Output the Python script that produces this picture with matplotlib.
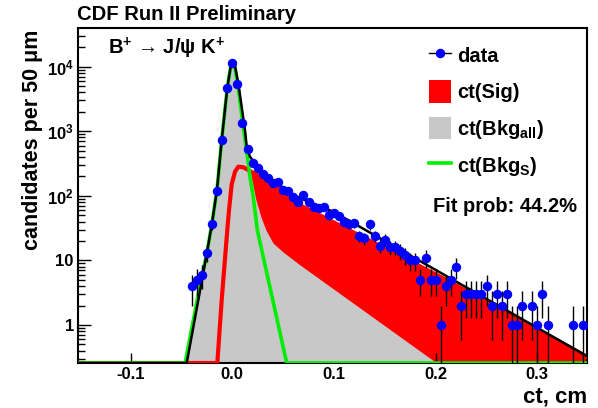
import numpy as np
import matplotlib
matplotlib.use("Agg")
import matplotlib.pyplot as plt
from matplotlib.lines import Line2D
from matplotlib.patches import Patch
from matplotlib.ticker import FixedLocator, FixedFormatter, LogLocator, NullFormatter

plt.rcParams['font.family'] = ['Liberation Sans', 'DejaVu Sans']
plt.rcParams['font.weight'] = 'bold'
plt.rcParams['mathtext.fontset'] = 'custom'
plt.rcParams['mathtext.rm'] = 'Liberation Sans:bold'
plt.rcParams['mathtext.bf'] = 'Liberation Sans:bold'
plt.rcParams['mathtext.it'] = 'Liberation Sans:bold:italic'

# ---------------- data ----------------
data_ct = [-0.04, -0.035, -0.03, -0.025, -0.02, -0.015, -0.01, -0.005, 0.0, 0.005,
           0.01, 0.015, 0.02, 0.025, 0.03, 0.035, 0.04, 0.045, 0.05, 0.055,
           0.06, 0.065, 0.07, 0.075, 0.08, 0.085, 0.09, 0.095, 0.1, 0.105,
           0.11, 0.115, 0.12, 0.125, 0.13, 0.135, 0.14, 0.145, 0.15, 0.155,
           0.16, 0.165, 0.17, 0.175, 0.18, 0.185, 0.19, 0.195, 0.2, 0.205,
           0.21, 0.215, 0.22, 0.225, 0.23, 0.235, 0.24, 0.245, 0.25, 0.255,
           0.26, 0.265, 0.27, 0.275, 0.28, 0.285, 0.295, 0.3, 0.305, 0.31,
           0.335, 0.345]
data_n = [4, 5, 6, 13, 36, 119, 740, 4700, 11500, 5400,
          1320, 535, 325, 269, 217, 192, 158, 166, 125, 117,
          97, 81, 103, 81, 67, 64, 67, 50, 54, 49,
          40, 37, 38, 24, 22, 36, 24, 17, 21, 16,
          16, 14, 12, 10, 10, 5, 11, 5, 5, 1,
          4, 5, 8, 2, 3, 3, 3, 3, 4, 2,
          3, 2, 3, 1, 1, 2, 2, 1, 3, 1,
          1, 1]

YMIN, YMAX = 0.258, 3.96e4
XMIN, XMAX = -0.1517, 0.3488

# total fit (black)
tot_ct = [XMIN, -0.0448, -0.0334, -0.025, -0.02, -0.015, -0.0104, -0.0049, -0.0018, 0.0002,
          0.0027, 0.0059, 0.0092, 0.0125, 0.0142, 0.0174, 0.0272, 0.0437, 0.0633, 0.1, XMAX]
tot_val = [YMIN, YMIN, 2.44, 13, 37, 125, 731, 4700, 9500, 12300,
           10200, 5500, 2400, 1040, 575, 403, 251, 156, 97, 56, 0.33]

# prompt background (green)
bks_ct = [XMIN, -0.0463, -0.0345, -0.025, -0.02, -0.015, -0.0104, -0.0049, -0.0018, 0.0002,
          0.0027, 0.0059, 0.0108, 0.0157, 0.0174, 0.0206, 0.0246, 0.0535, XMAX]
bks_val = [YMIN, YMIN, 2.44, 13, 37, 125, 731, 4700, 9500, 12300,
           9500, 4670, 1160, 322, 198, 97, 29.6, YMIN, YMIN]

# all background (gray fill)
bka_ct = [XMIN, -0.0463, -0.0345, -0.025, -0.02, -0.015, -0.0104, -0.0049, -0.0018, 0.0002,
          0.0027, 0.0059, 0.0108, 0.0157, 0.0184, 0.0233, 0.0282, 0.0331, 0.040, 0.0499,
          0.0666, 0.201, XMAX]
bka_val = [YMIN, YMIN, 2.44, 13, 37, 125, 731, 4700, 9500, 12300,
           9500, 4670, 1160, 330, 210, 86, 47, 29.5, 18.6, 13.5,
           8.5, YMIN, YMIN]

# signal (red)
sig_ct = [XMIN, -0.0147, -0.0104, -0.0049, -0.0032, -0.0006, 0.0027, 0.0059, 0.0108, 0.0174,
          0.0272, 0.0437, 0.0666, 0.201, XMAX]
sig_val = [YMIN, YMIN, 2.44, 29.5, 60, 150, 236, 282, 277, 242,
           199, 140, 71.5, 5.97, 0.32]

xtick_vals = [-0.1, 0.0, 0.1, 0.2, 0.3]
xtick_labels = ['-0.1', '0.0', '0.1', '0.2', '0.3']
ytick_vals = [1, 10, 100, 1000, 10000]
ytick_labels = ['1', '10', r'$10^{2}$', r'$10^{3}$', r'$10^{4}$']

# ---------------- figure ----------------
W, H = 598, 408
fig = plt.figure(figsize=(W / 100, H / 100), dpi=100)
ax = fig.add_axes([78 / W, 45 / H, 509 / W, 335 / H])
ax.set_yscale('log')
ax.set_xlim(XMIN, XMAX)
ax.set_ylim(YMIN, YMAX)

RED = '#ff0000'
GRAY = '#c8c8c8'
GREEN = '#00ee00'

ax.fill_between(sig_ct, YMIN, sig_val, color=RED, lw=0, zorder=1)
ax.fill_between(bka_ct, YMIN, bka_val, color=GRAY, lw=0, zorder=2)
ax.plot(sig_ct, sig_val, color=RED, lw=3.0, zorder=3, solid_joinstyle='round')
ax.plot(bks_ct, bks_val, color=GREEN, lw=2.6, zorder=4, solid_joinstyle='round')
ax.plot(tot_ct, tot_val, color='black', lw=1.8, zorder=5, solid_joinstyle='round')

n = np.array(data_n, dtype=float)
err = np.sqrt(n)
lower = np.minimum(err, n * 0.9999)
ax.errorbar(data_ct, n, yerr=[lower, err], fmt='o', color='blue', ms=5.8,
            ecolor='black', elinewidth=1.0, capsize=0, zorder=6)

# axes style
for s in ax.spines.values():
    s.set_linewidth(1.5)
    s.set_color('black')
ax.xaxis.set_major_locator(FixedLocator(xtick_vals))
ax.xaxis.set_major_formatter(FixedFormatter(xtick_labels))
ax.yaxis.set_major_locator(FixedLocator(ytick_vals))
ax.yaxis.set_major_formatter(FixedFormatter(ytick_labels))
ax.yaxis.set_minor_locator(LogLocator(base=10, subs=np.arange(2, 10)))
ax.yaxis.set_minor_formatter(NullFormatter())
ax.tick_params(axis='x', which='major', direction='in', length=7.2, width=1.0,
               top=False, labelsize=12, pad=3)
ax.tick_params(axis='x', which='minor', bottom=False, top=False)
ax.tick_params(axis='y', which='major', direction='in', length=9.4, width=1.0,
               right=False, labelsize=12, pad=3)
ax.tick_params(axis='y', which='minor', direction='in', length=5, width=1.0, right=False)
for lab in ax.get_xticklabels() + ax.get_yticklabels():
    lab.set_fontweight('bold')

# texts
fig.text(77 / W, 1 - 15 / H, 'CDF Run II Preliminary', fontsize=14.6, fontweight='bold',
         ha='left', va='center')
fig.text(108 / W, 1 - 48 / H, r'B$^{+}$ → J/ψ K$^{+}$', fontsize=14.5, fontweight='bold',
         ha='left', va='center')
fig.text(33 / W, 1 - 30 / H, 'candidates per 50 μm', fontsize=15.5, fontweight='bold',
         rotation=90, ha='center', va='top')
fig.text(587 / W, 1 - 397 / H, 'ct, cm', fontsize=16, fontweight='bold',
         ha='right', va='center')
fig.text(433 / W, 1 - 212 / H, 'Fit prob: 44.2%', fontsize=14.5, fontweight='bold',
         ha='left', va='baseline')

handles = [
    Line2D([], [], color='black', lw=1.0, marker='o', markersize=5.8,
           markerfacecolor='blue', markeredgecolor='blue'),
    Patch(facecolor=RED, edgecolor='none'),
    Patch(facecolor=GRAY, edgecolor='none'),
    Line2D([], [], color=GREEN, lw=2.6),
]
labels = ['data', 'ct(Sig)', r'ct(Bkg$_{\mathrm{all}}$)', r'ct(Bkg$_{\mathrm{S}}$)']
leg = fig.legend(handles, labels, loc='upper left',
                 bbox_to_anchor=(429 / W, 1 - 44 / H), bbox_transform=fig.transFigure,
                 frameon=False, borderpad=0, borderaxespad=0,
                 handlelength=1.1, handleheight=1.35, handletextpad=0.3,
                 labelspacing=0.68, prop={'size': 14.5, 'weight': 'bold'})

fig.savefig('out.png', dpi=100)
